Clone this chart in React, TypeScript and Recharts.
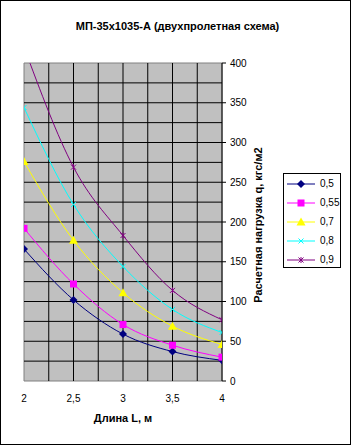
import React from 'react';
import { LineChart, Line, XAxis, YAxis, CartesianGrid, Legend, ReferenceArea, ReferenceLine } from 'recharts';

// span length, m
const spans = [2, 2.5, 3, 3.5, 4];
// design load q, kgf/m2, per thickness
const q05 = [166, 102, 59, 37, 26];
const q055 = [192, 122, 71, 45, 30];
const q07 = [276, 177, 111, 69, 46];
const q08 = [344, 222, 144, 90, 61];
const q09 = [420, 269, 183, 114, 77];

const seriesNames = ['0,5', '0,55', '0,7', '0,8', '0,9'];
const xTicks = [2, 2.5, 3, 3.5, 4];
const yTicks = [0, 50, 100, 150, 200, 250, 300, 350, 400];
const xGridTicks = [2.25, 2.5, 2.75, 3, 3.25, 3.5, 3.75];
const yGridTicks = [25, 50, 75, 100, 125, 150, 175, 200, 225, 250, 275, 300, 325, 350, 375];

const FONT = '"Liberation Sans", Arial, sans-serif';

type Shape = 'diamond' | 'square' | 'triangle' | 'cross' | 'star';

const series: { key: string; name: string; color: string; shape: Shape }[] = [
  { key: 's05', name: seriesNames[0], color: '#000080', shape: 'diamond' },
  { key: 's055', name: seriesNames[1], color: '#FF00FF', shape: 'square' },
  { key: 's07', name: seriesNames[2], color: '#FFFF00', shape: 'triangle' },
  { key: 's08', name: seriesNames[3], color: '#00FFFF', shape: 'cross' },
  { key: 's09', name: seriesNames[4], color: '#800080', shape: 'star' },
];

const data = spans.map((l, i) => ({
  L: l,
  s05: q05[i],
  s055: q055[i],
  s07: q07[i],
  s08: q08[i],
  s09: q09[i],
}));

const Marker = ({ cx, cy, shape, color }: { cx: number; cy: number; shape: Shape; color: string }) => {
  switch (shape) {
    case 'diamond':
      return <polygon points={`${cx},${cy - 4} ${cx + 4},${cy} ${cx},${cy + 4} ${cx - 4},${cy}`} fill={color} />;
    case 'square':
      return <rect x={cx - 3.5} y={cy - 3.5} width={7} height={7} fill={color} />;
    case 'triangle':
      return <polygon points={`${cx},${cy - 4.5} ${cx + 4.5},${cy + 3.5} ${cx - 4.5},${cy + 3.5}`} fill={color} />;
    case 'cross':
      return (
        <g stroke={color} strokeWidth={1}>
          <line x1={cx - 2.5} y1={cy - 2.5} x2={cx + 2.5} y2={cy + 2.5} />
          <line x1={cx - 2.5} y1={cy + 2.5} x2={cx + 2.5} y2={cy - 2.5} />
        </g>
      );
    default:
      return (
        <g stroke={color} strokeWidth={1}>
          <line x1={cx - 2.5} y1={cy - 2.5} x2={cx + 2.5} y2={cy + 2.5} />
          <line x1={cx - 2.5} y1={cy + 2.5} x2={cx + 2.5} y2={cy - 2.5} />
          <line x1={cx} y1={cy - 3} x2={cx} y2={cy + 3} />
        </g>
      );
  }
};

const makeDot = (shape: Shape, color: string) => (props: any) => {
  const { cx, cy, index } = props;
  if (cx == null || cy == null) return <g key={`d${index}`} />;
  return (
    <g key={`d${index}`}>
      <Marker cx={cx} cy={cy} shape={shape} color={color} />
    </g>
  );
};

const LegendBox = () => (
  <div
    style={{
      border: '1px solid #000',
      background: '#fff',
      width: 56,
      height: 93,
      fontFamily: FONT,
      fontSize: 10,
      boxSizing: 'content-box',
    }}
  >
    {series.map((s) => (
      <div key={s.key} style={{ height: 19, display: 'flex', alignItems: 'center' }}>
        <svg width={31} height={10} style={{ marginLeft: 3 }}>
          <line x1={0} y1={5} x2={28} y2={5} stroke={s.color} strokeWidth={1} />
          <Marker cx={14} cy={5} shape={s.shape} color={s.color} />
        </svg>
        <span style={{ marginLeft: 2 }}>{s.name}</span>
      </div>
    ))}
  </div>
);

const YLabel = (props: any) => {
  const vb = props.viewBox || {};
  const x = 257;
  const y = (vb.y ?? 62) + (vb.height ?? 318) / 2 + 3;
  return (
    <text
      x={x}
      y={y}
      transform={`rotate(-90, ${x}, ${y})`}
      textAnchor="middle"
      dominantBaseline="central"
      fontFamily={FONT}
      fontSize={11}
      fontWeight="bold"
      fill="#000"
    >
      Расчетная нагрузка q, кгс/м2
    </text>
  );
};

const XLabel = (props: any) => {
  const vb = props.viewBox || {};
  const x = (vb.x ?? 23) + (vb.width ?? 198) / 2;
  return (
    <text x={x} y={421} textAnchor="middle" fontFamily={FONT} fontSize={11} fontWeight="bold" fill="#000">
      Длина L, м
    </text>
  );
};

const App: React.FC = () => {
  return (
    <div
      style={{
        position: 'absolute',
        left: 0,
        top: 0,
        width: 351,
        height: 445,
        boxSizing: 'border-box',
        border: '1px solid #000',
        background: '#fff',
        fontFamily: FONT,
      }}
    >
      <div
        style={{
          position: 'absolute',
          left: 0,
          top: 19,
          width: 349,
          textAlign: 'center',
          fontSize: 11,
          fontWeight: 'bold',
          paddingLeft: 2,
        }}
      >
        МП-35x1035-А (двухпролетная схема)
      </div>
      <LineChart width={349} height={443} data={data} margin={{ top: 62, right: 88, bottom: 33, left: 23 }}>
        <CartesianGrid
          xAxisId="L"
          yAxisId="q"
          horizontal={false}
          vertical={false}
          fill="#C0C0C0"
          fillOpacity={1}
        />
        {yGridTicks.map((v) => (
          <ReferenceLine key={`gy${v}`} xAxisId="L" yAxisId="q" y={v} stroke="#000" strokeWidth={1} />
        ))}
        {xGridTicks.map((v) => (
          <ReferenceLine key={`gx${v}`} xAxisId="L" yAxisId="q" x={v} stroke="#000" strokeWidth={1} />
        ))}
        <ReferenceArea
          xAxisId="L"
          yAxisId="q"
          x1={2}
          x2={4}
          y1={0}
          y2={400}
          fill="none"
          fillOpacity={0}
          stroke="#808080"
          strokeOpacity={1}
          ifOverflow="visible"
        />
        <XAxis
          xAxisId="L"
          dataKey="L"
          type="number"
          domain={[2, 4]}
          ticks={xTicks}
          interval={0}
          tickFormatter={(v: number) => String(v).replace('.', ',')}
          axisLine={false}
          tickLine={false}
          tickMargin={8}
          height={30}
          tick={{ fontFamily: FONT, fontSize: 10, fill: '#000' }}
          label={<XLabel />}
          allowDataOverflow
        />
        <YAxis
          yAxisId="q"
          orientation="right"
          type="number"
          domain={[0, 400]}
          ticks={yTicks}
          interval={0}
          width={40}
          axisLine={{ stroke: '#000' }}
          tickLine={{ stroke: '#000' }}
          tickSize={4}
          tickMargin={4}
          tick={{ fontFamily: FONT, fontSize: 10, fill: '#000' }}
          label={<YLabel />}
          allowDataOverflow
        />
        {series.map((s) => (
          <Line
            key={s.key}
            xAxisId="L"
            yAxisId="q"
            dataKey={s.key}
            name={s.name}
            type="monotone"
            stroke={s.color}
            strokeWidth={1}
            dot={makeDot(s.shape, s.color)}
            activeDot={false}
            isAnimationActive={false}
          />
        ))}
        <Legend
          layout="horizontal"
          verticalAlign="middle"
          align="center"
          content={<LegendBox />}
          wrapperStyle={{ left: 282, top: 172, width: 58, height: 95 }}
        />
      </LineChart>
    </div>
  );
};

export default App;
